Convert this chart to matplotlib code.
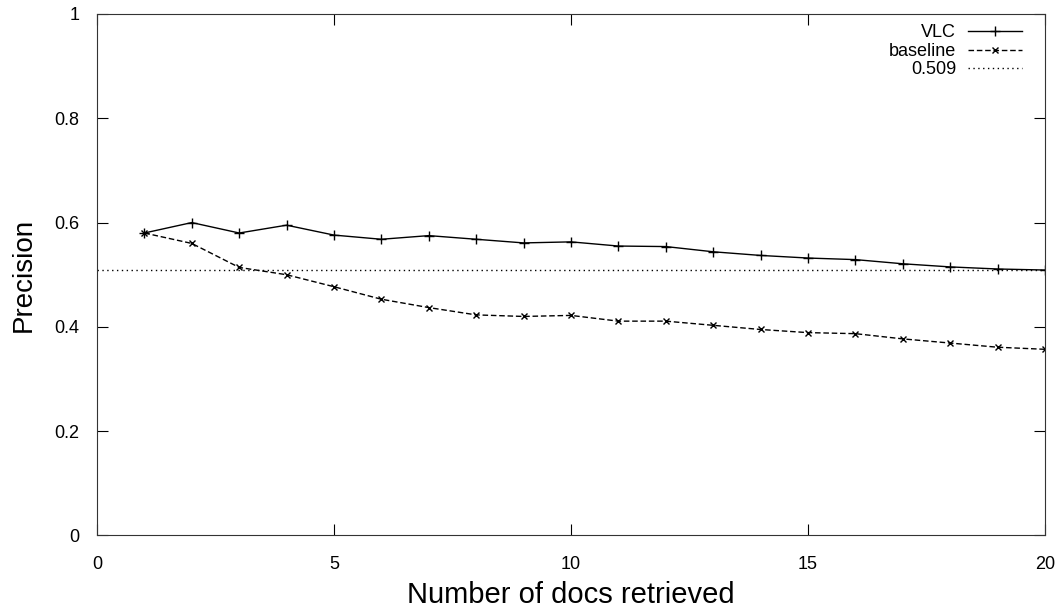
import matplotlib
matplotlib.use("Agg")
import matplotlib.pyplot as plt

# data
docs = list(range(1, 21))
vlc = [0.580, 0.600, 0.580, 0.595, 0.576, 0.568, 0.575, 0.568, 0.561, 0.563,
       0.555, 0.554, 0.544, 0.537, 0.532, 0.529, 0.521, 0.515, 0.511, 0.509]
baseline = [0.580, 0.560, 0.514, 0.500, 0.477, 0.453, 0.437, 0.423, 0.420, 0.422,
            0.411, 0.411, 0.403, 0.395, 0.389, 0.387, 0.377, 0.369, 0.361, 0.357]
ref_value = 0.509
x_ticks = [0, 5, 10, 15, 20]
y_ticks = [0, 0.2, 0.4, 0.6, 0.8, 1]
y_tick_labels = ["0", "0.2", "0.4", "0.6", "0.8", "1"]

plt.rcParams['font.family'] = ['Liberation Sans', 'DejaVu Sans']

fig = plt.figure(figsize=(10.6, 6.07), dpi=100)
ax = fig.add_axes([0.0915, 0.1178, 0.8943, 0.8592])

ax.plot(docs, vlc, color='black', lw=1.0, marker='+', ms=7, mew=1.0,
        label='VLC')
ax.plot(docs, baseline, color='black', lw=1.0, marker='x', ms=5, mew=1.0,
        dashes=(4, 2), label='baseline')
ax.axhline(ref_value, color='black', lw=1.0, dashes=(1, 2.5),
           label='%.3f' % ref_value)

ax.set_xlim(0, 20)
ax.set_ylim(0, 1)
ax.set_xticks(x_ticks)
ax.set_yticks(y_ticks)
ax.set_yticklabels(y_tick_labels)
ax.tick_params(direction='in', length=8, width=0.8, labelsize=13,
               top=True, right=True)
ax.tick_params(axis='x', pad=14.5)
ax.tick_params(axis='y', pad=12.5)
for sp in ax.spines.values():
    sp.set_linewidth(0.8)
    sp.set_color('#333333')

ax.set_xlabel('Number of docs retrieved', fontsize=21, labelpad=6)
ax.set_ylabel('Precision', fontsize=20, labelpad=13)

leg = ax.legend(loc='upper right', bbox_to_anchor=(0.9757, 0.98),
                frameon=False, markerfirst=False, fontsize=13,
                handlelength=3.0, handletextpad=0.65, labelspacing=0.08,
                borderpad=0, borderaxespad=0)

fig.savefig('out.png', dpi=100)
